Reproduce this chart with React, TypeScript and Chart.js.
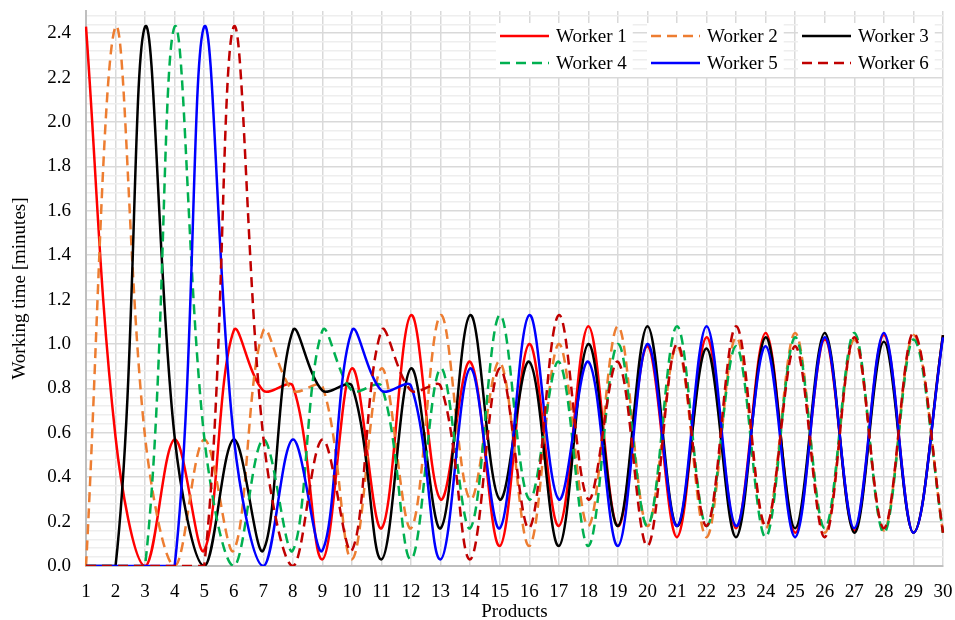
import { useEffect, useRef } from 'react';
import { Chart, registerables } from 'chart.js';

Chart.register(...registerables);

const products = ['1','2','3','4','5','6','7','8','9','10','11','12','13','14','15','16','17','18','19','20','21','22','23','24','25','26','27','28','29','30'];

const worker1 = [2.43, 0.58, 0.0, 0.57, 0.07, 1.06, 0.79, 0.81, 0.03, 0.89, 0.17, 1.13, 0.30, 0.92, 0.09, 1.00, 0.18, 1.08, 0.18, 0.99, 0.13, 1.03, 0.17, 1.05, 0.15, 1.02, 0.16, 1.04, 0.15, 1.04];
const worker2 = [0.0, 2.43, 0.58, 0.0, 0.57, 0.07, 1.06, 0.79, 0.81, 0.03, 0.89, 0.17, 1.13, 0.30, 0.92, 0.09, 1.00, 0.18, 1.08, 0.18, 0.99, 0.13, 1.03, 0.17, 1.05, 0.15, 1.02, 0.16, 1.04, 0.15];
const worker3 = [0.0, 0.0, 2.43, 0.58, 0.0, 0.57, 0.07, 1.06, 0.79, 0.81, 0.03, 0.89, 0.17, 1.13, 0.30, 0.92, 0.09, 1.00, 0.18, 1.08, 0.18, 0.98, 0.13, 1.03, 0.17, 1.05, 0.15, 1.01, 0.15, 1.04];
const worker4 = [0.0, 0.0, 0.0, 2.43, 0.58, 0.0, 0.57, 0.07, 1.06, 0.79, 0.81, 0.03, 0.89, 0.17, 1.13, 0.30, 0.92, 0.09, 1.00, 0.18, 1.08, 0.18, 0.99, 0.13, 1.03, 0.17, 1.05, 0.15, 1.02, 0.15];
const worker5 = [0.0, 0.0, 0.0, 0.0, 2.43, 0.58, 0.0, 0.57, 0.07, 1.06, 0.79, 0.81, 0.03, 0.89, 0.17, 1.13, 0.30, 0.92, 0.09, 1.00, 0.18, 1.08, 0.18, 0.99, 0.13, 1.03, 0.17, 1.05, 0.15, 1.03];
const worker6 = [0.0, 0.0, 0.0, 0.0, 0.0, 2.43, 0.58, 0.0, 0.57, 0.07, 1.06, 0.79, 0.81, 0.03, 0.89, 0.17, 1.13, 0.30, 0.92, 0.09, 1.00, 0.18, 1.08, 0.18, 0.99, 0.13, 1.03, 0.17, 1.05, 0.15];

const seriesNames = ['Worker 1', 'Worker 2', 'Worker 3', 'Worker 4', 'Worker 5', 'Worker 6'];
const seriesColors = ['#FF0000', '#ED7D31', '#000000', '#00B050', '#0000FF', '#C00000'];
const seriesDashed = [false, true, false, true, false, true];
const seriesValues = [worker1, worker2, worker3, worker4, worker5, worker6];

const yMin = 0;
const yMax = 2.5;
const yMinorStep = 0.04;

const FONT_FAMILY = '"Liberation Serif", "Times New Roman", serif';
const DASH = [10, 6];

const isMajor = (v: number) => Math.abs(v * 5 - Math.round(v * 5)) < 1e-6;

const legendPlugin = {
  id: 'insideLegend',
  afterDraw(chart: any) {
    const ctx = chart.ctx as CanvasRenderingContext2D;
    const colX = [500, 651, 802];
    const rowY = [36, 63];
    ctx.save();
    ctx.font = `19px ${FONT_FAMILY}`;
    chart.data.datasets.forEach((ds: any, i: number) => {
      const col = i % 3;
      const row = Math.floor(i / 3);
      const x0 = colX[col];
      const y = rowY[row];
      const textX = x0 + 56;
      const w = ctx.measureText(ds.label).width;
      ctx.fillStyle = '#ffffff';
      ctx.fillRect(x0 - 4, y - 13, textX + w + 6 - (x0 - 4), 27);
      ctx.strokeStyle = ds.borderColor;
      ctx.lineWidth = 2.5;
      ctx.setLineDash(ds.borderDash && ds.borderDash.length ? DASH : []);
      ctx.beginPath();
      ctx.moveTo(x0, y);
      ctx.lineTo(x0 + 49, y);
      ctx.stroke();
      ctx.setLineDash([]);
      ctx.fillStyle = '#000000';
      ctx.textBaseline = 'middle';
      ctx.textAlign = 'left';
      ctx.fillText(ds.label, textX, y + 1);
    });
    ctx.restore();
  },
};

export default function App() {
  const canvasRef = useRef<HTMLCanvasElement | null>(null);

  useEffect(() => {
    document.body.style.margin = '0';
    const canvas = canvasRef.current;
    if (!canvas) return;
    const chart = new Chart(canvas, {
      type: 'line',
      data: {
        labels: products,
        datasets: seriesValues.map((vals, i) => ({
          label: seriesNames[i],
          data: vals,
          borderColor: seriesColors[i],
          backgroundColor: seriesColors[i],
          borderWidth: 2.5,
          borderDash: seriesDashed[i] ? DASH : [],
          pointRadius: 0,
          pointHoverRadius: 0,
          tension: 0.36,
          fill: false,
          order: 5 - i,
        })),
      },
      options: {
        responsive: false,
        animation: false,
        events: [],
        layout: { padding: { top: 11, right: 12, left: 0, bottom: 0 } },
        plugins: {
          legend: { display: false },
          tooltip: { enabled: false },
        },
        scales: {
          x: {
            type: 'category',
            offset: false,
            grid: { color: '#d9d9d9', lineWidth: 1.5, drawTicks: false, offset: false },
            border: { color: '#bfbfbf', width: 2 },
            ticks: {
              color: '#000000',
              font: { family: FONT_FAMILY, size: 19 },
              padding: 15,
              autoSkip: false,
              maxRotation: 0,
              minRotation: 0,
            },
            title: {
              display: true,
              text: 'Products',
              color: '#000000',
              font: { family: FONT_FAMILY, size: 19 },
              padding: { top: 0, bottom: -3 },
            },
            afterFit: (s: any) => {
              s.height = 54;
              s.paddingLeft = 0;
              s.paddingRight = 0;
            },
          },
          y: {
            type: 'linear',
            min: yMin,
            max: yMax,
            grid: {
              color: (c: any) => (isMajor(c.tick.value) ? '#d9d9d9' : '#eeeeee'),
              lineWidth: 1.5,
              drawTicks: false,
            },
            border: { color: '#bfbfbf', width: 2 },
            ticks: {
              stepSize: yMinorStep,
              includeBounds: false,
              autoSkip: false,
              color: '#000000',
              font: { family: FONT_FAMILY, size: 19 },
              padding: 15,
              callback: (v: any) => (isMajor(Number(v)) ? Number(v).toFixed(1) : ''),
            },
            title: {
              display: true,
              text: 'Working time [minutes]',
              color: '#000000',
              font: { family: FONT_FAMILY, size: 19 },
              padding: { top: 9, bottom: 0 },
            },
            afterFit: (s: any) => {
              s.width = 86;
              s.paddingTop = 0;
              s.paddingBottom = 0;
            },
          },
        },
      },
      plugins: [legendPlugin],
    } as any);
    return () => chart.destroy();
  }, []);

  return (
    <div style={{ position: 'fixed', left: 0, top: 0, width: 955, height: 620, background: '#ffffff' }}>
      <canvas ref={canvasRef} width={955} height={620} style={{ width: 955, height: 620, display: 'block' }} />
    </div>
  );
}
